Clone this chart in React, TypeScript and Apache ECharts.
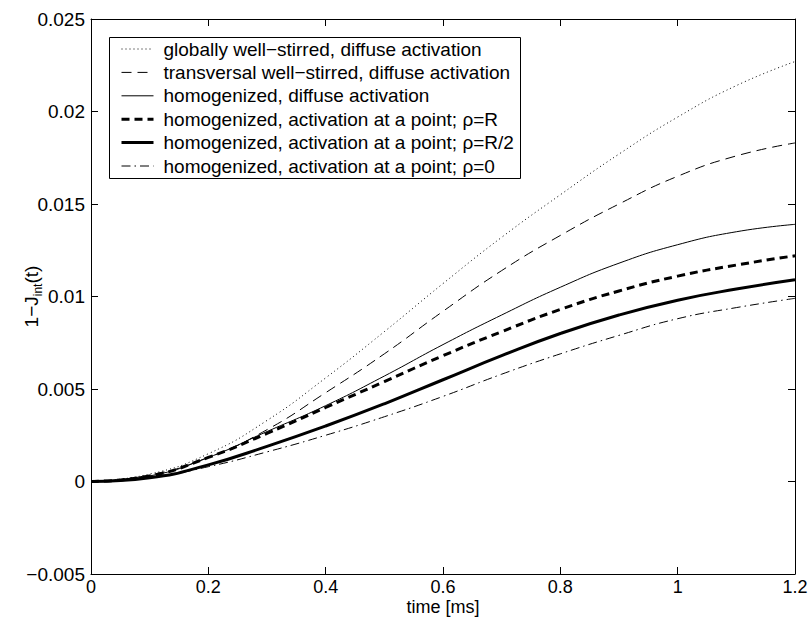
import React, { useEffect, useRef } from "react";
import * as echarts from "echarts";

// time [ms]
const timeMs = [0, 0.1, 0.2, 0.3, 0.4, 0.5, 0.6, 0.7, 0.8, 0.9, 1.0, 1.1, 1.2];

// 1 - J_int(t) for each model
const globallyDiffuse = [0, 0.0004, 0.0015, 0.0033, 0.0056, 0.0081, 0.0107, 0.0132, 0.0155, 0.0177, 0.0197, 0.0214, 0.0227];
const transversalDiffuse = [0, 0.00035, 0.0013, 0.0028, 0.0048, 0.0069, 0.0092, 0.0114, 0.0133, 0.015, 0.0165, 0.0176, 0.0183];
const homogenizedDiffuse = [0, 0.0003, 0.0013, 0.0027, 0.0041, 0.0057, 0.0074, 0.009, 0.0105, 0.0118, 0.0128, 0.0135, 0.0139];
const pointRhoR = [0, 0.0003, 0.0013, 0.0026, 0.004, 0.0054, 0.0068, 0.0081, 0.0093, 0.0103, 0.0111, 0.0117, 0.0122];
const pointRhoHalfR = [0, 0.0002, 0.0009, 0.0019, 0.003, 0.0042, 0.0055, 0.0068, 0.008, 0.009, 0.0098, 0.0104, 0.0109];
const pointRho0 = [0, 0.0002, 0.0008, 0.0016, 0.0025, 0.0035, 0.0046, 0.0058, 0.0069, 0.0079, 0.0088, 0.0094, 0.0099];

const seriesNames = [
  "globally well−stirred, diffuse activation",
  "transversal well−stirred, diffuse activation",
  "homogenized, diffuse activation",
  "homogenized, activation at a point; ρ=R",
  "homogenized, activation at a point; ρ=R/2",
  "homogenized, activation at a point; ρ=0",
];

const FONT = "'Liberation Sans', Arial, Helvetica, sans-serif";

export default function App() {
  const ref = useRef<HTMLDivElement>(null);

  useEffect(() => {
    if (!ref.current) return;
    const chart = echarts.init(ref.current, undefined, { renderer: "svg" });

    const values = [globallyDiffuse, transversalDiffuse, homogenizedDiffuse, pointRhoR, pointRhoHalfR, pointRho0];
    const styles: any[] = [
      { width: 1, type: [1, 3] },
      { width: 1, type: [10, 6] },
      { width: 1, type: "solid" },
      { width: 3, type: [8, 5] },
      { width: 3, type: "solid" },
      { width: 1, type: [9, 4, 1.5, 4] },
    ];

    const series = values.map((arr, i) => ({
      name: seriesNames[i],
      type: "line",
      data: timeMs.map((t, j) => [t, arr[j]]),
      showSymbol: false,
      symbol: "none",
      smooth: 0.5,
      xAxisIndex: 0,
      yAxisIndex: 0,
      lineStyle: { color: "#000", ...styles[i] },
      itemStyle: { color: "#000" },
    }));

    const legendData = seriesNames.map((name, i) => ({
      name,
      lineStyle: { color: "#000", width: styles[i].width, type: styles[i].type },
    }));

    const xFmt = (v: number) => String(Math.round(v * 10) / 10);
    const yFmt = (v: number) => {
      const r = Math.round(v * 1000) / 1000;
      if (r === 0) return "0";
      return String(r).replace("-", "−");
    };

    const axisCommon = {
      axisLine: { show: true, onZero: false, lineStyle: { color: "#000", width: 1 } },
      axisTick: { show: true, inside: true, length: 7, lineStyle: { color: "#000", width: 1 } },
      splitLine: { show: false },
    };

    chart.setOption({
      animation: false,
      backgroundColor: "#fff",
      textStyle: { fontFamily: FONT },
      grid: { left: 91, right: 14, top: 19, bottom: 47, containLabel: false, outerBoundsMode: "none" },
      xAxis: [
        {
          type: "value",
          position: "bottom",
          min: 0,
          max: 1.2,
          interval: 0.2,
          ...axisCommon,
          axisLabel: { fontSize: 18, lineHeight: 18, color: "#000", margin: 4, fontFamily: FONT, formatter: xFmt },
          name: "time [ms]",
          nameLocation: "middle",
          nameGap: 24,
          nameMoveOverlap: false,
          nameTextStyle: { fontSize: 18, lineHeight: 18, color: "#000", fontFamily: FONT },
        },
        {
          type: "value",
          position: "top",
          min: 0,
          max: 1.2,
          interval: 0.2,
          ...axisCommon,
          axisLabel: { show: false },
        },
      ],
      yAxis: [
        {
          type: "value",
          position: "left",
          min: -0.005,
          max: 0.025,
          interval: 0.005,
          ...axisCommon,
          axisLabel: { fontSize: 19, color: "#000", margin: 6, fontFamily: FONT, formatter: yFmt },
          name: "{a|1−J}{s|int}{a|(t)}",
          nameLocation: "middle",
          nameGap: 47,
          nameMoveOverlap: false,
          nameTextStyle: {
            color: "#000",
            fontFamily: FONT,
            rich: {
              a: { fontSize: 19, lineHeight: 26, verticalAlign: "middle", color: "#000", fontFamily: FONT },
              s: { fontSize: 12, lineHeight: 12, verticalAlign: "bottom", color: "#000", fontFamily: FONT },
            },
          },
        },
        {
          type: "value",
          position: "right",
          min: -0.005,
          max: 0.025,
          interval: 0.005,
          ...axisCommon,
          axisLabel: { show: false },
        },
      ],
      legend: {
        show: true,
        orient: "vertical",
        left: 120,
        top: 39.5,
        padding: 0,
        itemWidth: 32,
        itemHeight: 18,
        itemGap: 4.4,
        selectedMode: false,
        data: legendData,
        itemStyle: { opacity: 0 },
        textStyle: { fontSize: 19, lineHeight: 18, color: "#000", fontFamily: FONT, padding: [0, 0, 0, 5] },
        z: 5,
      },
      graphic: [
        {
          type: "rect",
          shape: { x: 109.5, y: 37.5, width: 411, height: 141 },
          style: { fill: "#fff", stroke: "#000", lineWidth: 1 },
          z: 3,
        },
      ],
      series,
    });

    return () => chart.dispose();
  }, []);

  return (
    <div
      ref={ref}
      style={{ position: "absolute", left: 0, top: 0, width: 809, height: 621 }}
    />
  );
}
